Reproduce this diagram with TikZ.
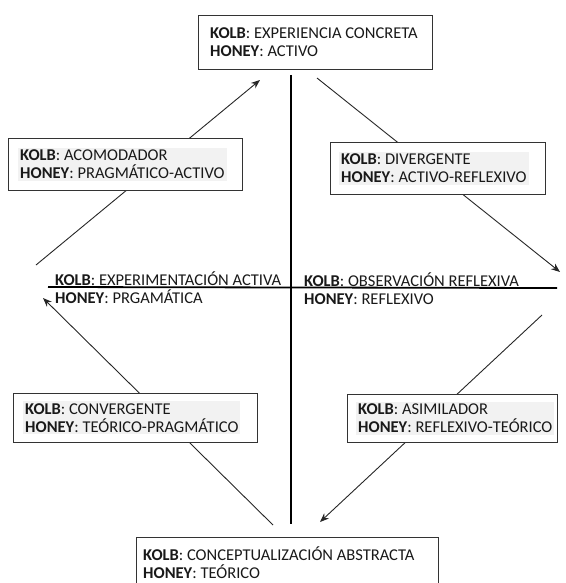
\documentclass[tikz,border=0pt]{standalone}
\usepackage{fontspec}
\setmainfont{Carlito}
\usetikzlibrary{positioning,arrows.meta}

\newcommand{\kolbhoney}[2]{\textbf{KOLB}: #1\\\textbf{HONEY}: #2}

\begin{document}
\begin{tikzpicture}[x=1pt, y=-1pt, >={Stealth[length=9pt,width=7pt]},
    every node/.style={font=\fontsize{16.5}{18}\selectfont, text=black!90},
    frame/.style={draw=black!80, fill=white, line width=0.9pt, inner sep=0pt, anchor=north west},
    hilite/.style={fill=gray!10, align=left, inner sep=2pt, anchor=west},
    plain/.style={align=left, inner sep=0pt, anchor=west},
    cyclearrow/.style={->, line width=0.9pt, black!85},
    axis/.style={line width=1.8pt, black}]
    \useasboundingbox (0,0) rectangle (565,583);

    % Free ends of the cycle arrows
    \coordinate (acomstart) at (36,265);
    \coordinate (acomend) at (260,80);
    \coordinate (divstart) at (317,78);
    \coordinate (divend) at (560,272);
    \coordinate (asimstart) at (542,315);
    \coordinate (asimend) at (320,522);
    \coordinate (convstart) at (273,525);
    \coordinate (convend) at (43,298);

    % Cycle arrows (drawn first, boxes cover them)
    \draw[cyclearrow] (acomstart) -- (acomend);
    \draw[cyclearrow] (divstart) -- (divend);
    \draw[cyclearrow] (asimstart) -- (asimend);
    \draw[cyclearrow] (convstart) -- (convend);

    % Axes
    \coordinate (vtop) at (291,75);
    \coordinate (vbot) at (291,524);
    \coordinate (hleft) at (48,287);
    \coordinate (hright) at (557,288);
    \draw[axis] (vtop) -- (vbot);
    \draw[axis] (hleft) -- (hright);

    % Axis labels
    \node[plain] (activa) at (55,288) {\kolbhoney{EXPERIMENTACIÓN ACTIVA}{PRGAMÁTICA}};
    \node[plain] (reflexiva) at (304,289) {\kolbhoney{OBSERVACIÓN REFLEXIVA}{REFLEXIVO}};

    % Top and bottom boxes
    \node[frame, minimum width=234pt, minimum height=54pt] (concreta) at (198,15) {};
    \node[plain] (concretatxt) at ([xshift=12pt]concreta.west) {\kolbhoney{EXPERIENCIA CONCRETA}{ACTIVO}};

    \node[frame, minimum width=302pt, minimum height=50pt] (abstracta) at (136,537) {};
    \node[plain] (abstractatxt) at ([xshift=7pt]abstracta.west) {\kolbhoney{CONCEPTUALIZACIÓN ABSTRACTA}{TEÓRICO}};

    % Learning style boxes
    \node[frame, minimum width=234pt, minimum height=52pt] (acomodador) at (8,138) {};
    \node[hilite] (acomodadortxt) at ([xshift=10pt]acomodador.west) {\kolbhoney{ACOMODADOR}{PRAGMÁTICO-ACTIVO}};

    \node[frame, minimum width=215pt, minimum height=52pt] (divergente) at (330,142) {};
    \node[hilite] (divergentetxt) at ([xshift=9pt]divergente.west) {\kolbhoney{DIVERGENTE}{ACTIVO-REFLEXIVO}};

    \node[frame, minimum width=244pt, minimum height=49pt] (convergente) at (13,393) {};
    \node[hilite] (convergentetxt) at ([xshift=10pt]convergente.west) {\kolbhoney{CONVERGENTE}{TEÓRICO-PRAGMÁTICO}};

    \node[frame, minimum width=210pt, minimum height=48pt] (asimilador) at (347,394) {};
    \node[hilite] (asimiladortxt) at ([xshift=9pt]asimilador.west) {\kolbhoney{ASIMILADOR}{REFLEXIVO-TEÓRICO}};
\end{tikzpicture}
\end{document}
